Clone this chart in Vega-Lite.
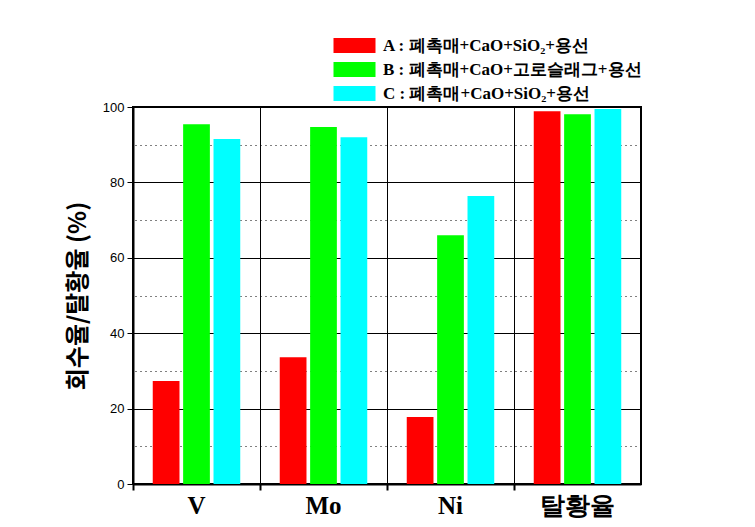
{
  "$schema": "https://vega.github.io/schema/vega-lite/v6.json",
  "width": 508,
  "height": 377,
  "autosize": "none",
  "padding": {"left": 133, "top": 107, "right": 114, "bottom": 43},
  "background": "white",
  "config": {
    "view": {"stroke": "black", "strokeWidth": 2},
    "font": "Liberation Sans"
  },
  "data": {
    "values": [
      {"cat": "V", "series": "A", "value": 27.3},
      {"cat": "V", "series": "B", "value": 95.4},
      {"cat": "V", "series": "C", "value": 91.5},
      {"cat": "Mo", "series": "A", "value": 33.6},
      {"cat": "Mo", "series": "B", "value": 94.7},
      {"cat": "Mo", "series": "C", "value": 92.0},
      {"cat": "Ni", "series": "A", "value": 17.8},
      {"cat": "Ni", "series": "B", "value": 66.0},
      {"cat": "Ni", "series": "C", "value": 76.4},
      {"cat": "탈황율", "series": "A", "value": 98.9},
      {"cat": "탈황율", "series": "B", "value": 98.1},
      {"cat": "탈황율", "series": "C", "value": 99.5}
    ]
  },
  "encoding": {
    "x": {
      "field": "cat",
      "type": "nominal",
      "sort": null,
      "scale": {"paddingInner": 0, "paddingOuter": 0},
      "axis": {
        "title": null,
        "bandPosition": 0,
        "grid": true,
        "gridColor": "black",
        "gridWidth": 1,
        "gridOpacity": 1,
        "domainColor": "black",
        "domainWidth": 2,
        "tickColor": "black",
        "tickWidth": 2,
        "tickSize": 6,
        "labelAngle": 0,
        "labelFont": "Liberation Serif",
        "labelFontSize": 25,
        "labelFontWeight": "bold",
        "labelColor": "black",
        "labelPadding": 3
      }
    },
    "xOffset": {
      "field": "series",
      "type": "nominal",
      "scale": {"paddingInner": 0.12, "paddingOuter": 0.65}
    }
  },
  "layer": [
    {
      "mark": {"type": "bar", "opacity": 0},
      "encoding": {
        "y": {
          "field": "value",
          "type": "quantitative",
          "scale": {"domain": [0, 100], "nice": false},
          "axis": {
            "orient": "right",
            "title": null,
            "values": [10, 30, 50, 70, 90],
            "labels": false,
            "ticks": false,
            "domain": false,
            "grid": true,
            "gridColor": "black",
            "gridOpacity": 1,
            "gridWidth": 1,
            "gridDash": [1, 4]
          }
        }
      }
    },
    {
      "mark": {"type": "bar"},
      "encoding": {
        "y": {
          "field": "value",
          "type": "quantitative",
          "scale": {"domain": [0, 100], "nice": false},
          "axis": {
            "orient": "left",
            "title": "회수율/탈황율 (%)",
            "titleFont": "Noto Sans CJK KR",
            "titleFontSize": 24,
            "titleFontWeight": "bold",
            "titleColor": "black",
            "titlePadding": 12,
            "values": [0, 20, 40, 60, 80, 100],
            "labelFont": "Liberation Sans",
            "labelFontSize": 13,
            "labelColor": "black",
            "labelPadding": 3,
            "grid": true,
            "gridColor": "black",
            "gridOpacity": 1,
            "gridWidth": 1,
            "domainColor": "black",
            "domainWidth": 2,
            "tickColor": "black",
            "tickWidth": 1,
            "tickSize": 6
          }
        },
        "color": {
          "field": "series",
          "type": "nominal",
          "scale": {"domain": ["A", "B", "C"], "range": ["#ff0000", "#00ff00", "#00ffff"]},
          "legend": {
            "title": null,
            "orient": "none",
            "legendX": 211,
            "legendY": -72,
            "symbolType": "M-2,-0.714L2,-0.714L2,0.714L-2,0.714Z",
            "symbolSize": 441,
            "symbolStrokeWidth": 0,
            "symbolOpacity": 1,
            "labelExpr": "datum.value === 'A' ? 'A : 폐촉매+CaO+SiO₂+용선' : datum.value === 'B' ? 'B : 폐촉매+CaO+고로슬래그+용선' : 'C : 폐촉매+CaO+SiO₂+용선'",
            "labelFont": "Liberation Serif",
            "labelFontSize": 17,
            "labelFontWeight": "bold",
            "labelColor": "black",
            "labelOffset": 18,
            "labelLimit": 400,
            "rowPadding": 5
          }
        }
      }
    }
  ],
  "resolve": {"axis": {"y": "independent"}}
}
